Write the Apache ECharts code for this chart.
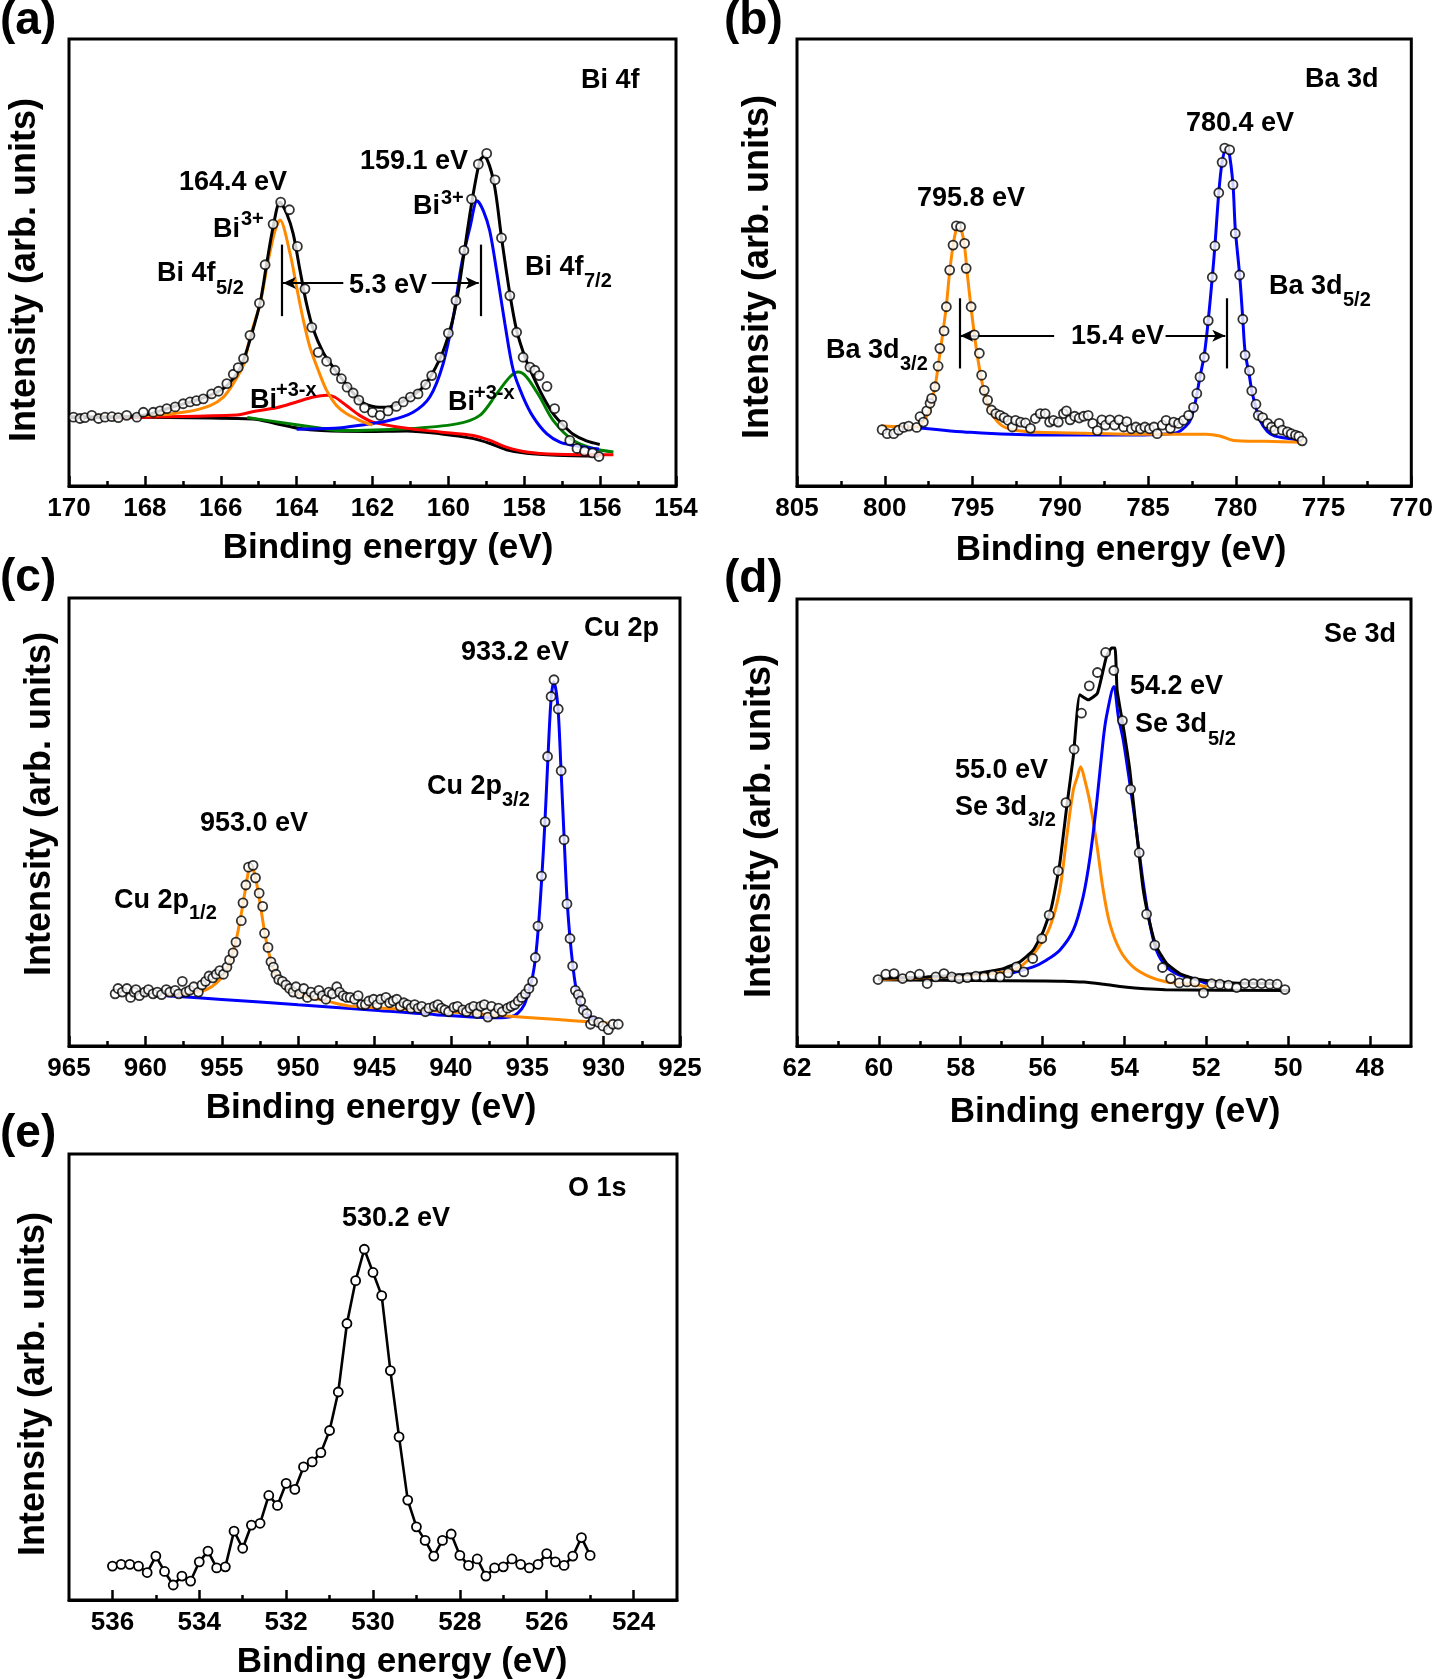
<!DOCTYPE html>
<html><head><meta charset="utf-8">
<script src="https://cdn.jsdelivr.net/npm/echarts@6/dist/echarts.min.js"></script>
<style>html,body{margin:0;padding:0;background:#fff}#c{width:1436px;height:1679px}</style>
</head><body><div id="c"></div><script>
// ---------- tick labels ----------
const aTicks = [154,156,158,160,162,164,166,168,170];
const aMinor = [155,157,159,161,163,165,167,169];
const bTicks = [770,775,780,785,790,795,800,805];
const bMinor = [772.5,777.5,782.5,787.5,792.5,797.5,802.5];
const cTicks = [925,930,935,940,945,950,955,960,965];
const cMinor = [927.5,932.5,937.5,942.5,947.5,952.5,957.5,962.5];
const dTicks = [48,50,52,54,56,58,60,62];
const dMinor = [49,51,53,55,57,59,61];
const eTicks = [524,526,528,530,532,534,536];
const eMinor = [525,527,529,531,533,535];

// ---------- (a) Bi 4f ----------
const aPts = [[169.88,15.4],[169.71,15.1],[169.58,15.3],[169.40,15.8],[169.22,15.1],[169.05,15.4],[168.87,15.5],[168.70,15.3],[168.48,15.8],[168.21,15.4],[168.04,16.5],[167.78,16.5],[167.60,16.8],[167.42,17.3],[167.20,17.7],[166.99,18.4],[166.81,18.8],[166.64,19.1],[166.46,19.5],[166.24,20.6],[166.06,21.2],[165.84,22.9],[165.67,25.0],[165.54,26.5],[165.40,28.5],[165.23,33.7],[164.98,40.9],[164.83,49.5],[164.62,58.6],[164.42,63.5],[164.19,61.8],[163.98,53.6],[163.78,44.1],[163.60,35.5],[163.43,29.9],[163.21,27.9],[162.99,25.9],[162.82,24.0],[162.67,22.1],[162.51,20.8],[162.36,19.2],[162.21,17.5],[162.00,16.5],[161.80,15.8],[161.59,16.8],[161.37,17.8],[161.19,18.8],[161.00,19.9],[160.80,20.6],[160.60,22.7],[160.44,24.7],[160.22,28.8],[160.00,34.2],[159.80,41.5],[159.59,52.7],[159.39,64.2],[159.21,72.0],[158.99,74.4],[158.77,68.5],[158.60,55.5],[158.38,42.6],[158.20,34.4],[158.03,28.8],[157.85,26.6],[157.72,25.9],[157.61,24.7],[157.40,22.3],[157.20,17.3],[156.99,13.6],[156.80,10.2],[156.61,8.4],[156.41,7.8],[156.20,7.4],[156.03,6.6]];
const aEnvelope = [[170,15.3],[169,15.4],[168,15.9],[167.34,17.5],[166.46,19.7],[165.93,21.8],[165.58,25.1],[165.40,28.2],[165.18,34.1],[164.96,41.1],[164.79,49.7],[164.62,57.9],[164.44,63.5],[164.26,60.9],[164.09,56.4],[163.91,48.2],[163.74,40.8],[163.56,35.0],[163.30,29.9],[163.04,26.6],[162.77,23.6],[162.51,20.8],[162.25,18.6],[161.98,17.8],[161.63,17.6],[161.19,19.0],[160.67,22.1],[160.22,28.5],[159.96,34.8],[159.78,41.5],[159.59,51.9],[159.39,63.1],[159.17,72.8],[159.06,73.7],[158.81,68.3],[158.60,55.6],[158.38,43.0],[158.20,34.8],[157.98,28.8],[157.76,24.4],[157.50,19.9],[157.24,16.2],[156.97,13.6],[156.71,11.6],[156.36,10.1],[156.01,9.3]];
const aOrange = [[170,15.3],[167.78,15.8],[166.9,16.6],[166.28,18.0],[165.93,19.9],[165.67,22.9],[165.40,27.1],[165.23,33.3],[164.96,40.9],[164.75,50.4],[164.57,57.1],[164.44,59.5],[164.17,51.9],[164.0,44.5],[163.82,37.0],[163.65,31.1],[163.43,25.9],[163.21,21.4],[162.95,18.0],[162.69,16.2],[162.34,14.7],[162.0,13.6]];
const aRed = [[169.2,15.3],[165.58,15.9],[165.06,16.8],[164.53,17.5],[164.0,18.8],[163.56,19.9],[163.2,20.3],[163.0,19.9],[162.69,18.0],[162.34,15.8],[161.98,14.3],[161.10,12.9],[160.22,12.1],[159.34,11.3],[158.9,10.2],[158.47,8.7],[157.94,7.6],[157.15,7.1],[155.65,7.0]];
const aGreen = [[165.3,15.3],[164.56,14.4],[163.35,12.9],[162.86,12.4],[161.10,12.8],[159.78,13.9],[159.17,15.8],[158.73,20.6],[158.38,24.4],[158.16,25.5],[157.94,24.4],[157.59,19.9],[157.24,14.7],[156.71,10.2],[156.18,8.4],[155.65,7.6]];
const aBlue = [[164.0,12.7],[163.0,12.9],[162.33,13.6],[161.54,14.7],[160.93,16.5],[160.49,19.9],[160.14,27.3],[159.87,37.8],[159.65,49.7],[159.43,57.9],[159.24,63.8],[159.08,61.6],[158.91,57.1],[158.73,48.2],[158.51,36.3],[158.29,25.9],[158.03,19.9],[157.76,15.4],[157.41,11.7],[157.06,9.8],[156.71,9.1],[156.18,8.4],[156.03,8.3]];
const aBackground = [[170,15.5],[165.16,15.0],[164.56,14.0],[163.95,12.9],[163.35,12.4],[162.14,12.2],[161.10,12.3],[160.22,11.7],[159.34,10.6],[158.9,9.5],[158.47,8.1],[157.94,7.3],[157.15,6.9],[156.03,6.7]];
const aSepX = [164.4, 159.15];
const aSepY = [38, 54];
const aArrowY = 45.4;
const aArrows = [[162.77, 164.36], [160.44, 159.2]];

// ---------- (b) Ba 3d ----------
const bPts = [[800.15,12.6],[799.86,11.7],[799.49,11.7],[799.21,12.5],[798.93,13.1],[798.64,13.4],[798.18,13.1],[797.99,15.5],[797.80,14.3],[797.61,16.8],[797.42,18.5],[797.33,19.6],[797.14,22.2],[796.96,26.8],[796.86,30.8],[796.62,34.7],[796.49,40.1],[796.30,48.3],[796.11,53.9],[795.92,58.2],[795.68,58.0],[795.45,54.3],[795.36,48.7],[795.08,40.1],[794.89,33.8],[794.61,29.7],[794.48,24.8],[794.33,21.4],[794.14,19.2],[793.92,17.0],[793.67,16.2],[793.43,15.8],[793.20,15.3],[792.98,14.7],[792.73,13.2],[792.55,14.7],[792.26,14.3],[791.98,14.1],[791.70,12.9],[791.42,15.1],[791.14,16.2],[790.86,16.2],[790.61,14.3],[790.39,14.7],[790.11,14.3],[789.82,16.2],[789.65,16.8],[789.44,14.8],[789.18,15.6],[788.92,15.2],[788.67,15.6],[788.41,15.8],[788.15,14.0],[787.89,12.4],[787.63,14.8],[787.42,13.6],[787.17,14.8],[786.91,13.6],[786.65,14.8],[786.39,13.2],[786.21,14.4],[785.95,12.8],[785.69,13.2],[785.43,12.8],[785.18,13.2],[784.92,12.8],[784.66,13.2],[784.48,11.7],[784.19,13.6],[783.97,14.7],[783.73,12.9],[783.54,14.3],[783.26,14.0],[782.98,14.7],[782.69,15.8],[782.41,17.6],[782.22,20.7],[782.04,24.4],[781.79,28.8],[781.57,37.0],[781.34,46.7],[781.19,53.7],[780.97,65.6],[780.78,72.4],[780.63,75.6],[780.35,75.2],[780.16,67.4],[780.03,56.5],[779.78,47.2],[779.60,37.3],[779.47,29.3],[779.22,25.8],[779.09,21.3],[778.85,18.3],[778.72,15.8],[778.47,15.3],[778.19,14.0],[777.96,13.2],[777.78,12.5],[777.53,14.0],[777.35,12.5],[777.06,12.1],[776.84,11.7],[776.60,11.4],[776.41,11.1],[776.22,10.1]];
const bOrange = [[800.2,13.4],[798.2,13.2],[797.8,14.5],[797.5,16.5],[797.3,19.5],[797.1,23.0],[796.9,28.5],[796.7,34.0],[796.5,40.0],[796.3,48.0],[796.1,54.0],[795.92,57.5],[795.8,58.0],[795.65,57.5],[795.45,53.5],[795.3,47.5],[795.1,40.5],[794.9,34.0],[794.7,28.5],[794.5,24.0],[794.3,20.5],[794.1,18.0],[793.9,16.2],[793.6,14.5],[793.2,13.2],[792.5,12.4],[791.25,12.0],[788.67,11.8],[786.08,11.6],[783.5,11.6],[781.69,11.6],[780.91,11.2],[780.14,10.2],[778.33,10.0],[776.2,9.8]];
const bBlue = [[798.0,13.0],[795.1,12.0],[791.25,11.4],[786.08,11.4],[783.5,11.8],[782.7,14.0],[782.41,17.0],[782.22,20.5],[782.04,24.4],[781.79,29.5],[781.57,37.0],[781.34,46.7],[781.19,53.7],[780.97,65.6],[780.78,72.4],[780.55,75.5],[780.40,75.0],[780.16,67.4],[780.03,57.5],[779.78,47.2],[779.60,37.3],[779.47,30.0],[779.22,24.5],[779.09,21.3],[778.85,17.5],[778.6,14.5],[778.2,12.2],[777.8,11.2],[777.0,10.6],[776.3,10.2]];
const bSepX = [795.75, 780.53];
const bSepY = [26.3, 42];
const bArrowY = 33.6;
const bArrows = [[790.35, 795.7], [784.0, 780.6]];

// ---------- (c) Cu 2p ----------
const cPts = [[961.98,11.64],[961.79,12.83],[961.51,12.03],[961.21,12.83],[960.97,10.84],[960.74,12.03],[960.62,12.59],[960.39,11.24],[960.04,12.03],[959.80,12.59],[959.50,11.64],[959.22,12.03],[958.94,11.48],[958.63,12.59],[958.40,12.03],[958.05,12.43],[957.82,11.64],[957.58,14.43],[957.35,12.03],[957.11,12.43],[956.83,13.23],[956.53,12.03],[956.30,13.63],[956.06,14.43],[955.83,15.62],[955.59,15.22],[955.36,16.02],[955.13,16.82],[954.89,16.02],[954.66,17.61],[954.49,19.21],[954.26,20.8],[954.07,23.19],[953.72,27.97],[953.61,31.95],[953.42,35.94],[953.25,39.92],[952.95,40.32],[952.79,37.53],[952.55,34.11],[952.32,31.16],[952.20,25.18],[951.97,22.0],[951.78,18.8],[951.62,17.61],[951.45,16.02],[951.27,14.82],[951.03,14.43],[950.80,13.63],[950.56,12.83],[950.33,12.03],[950.14,13.23],[949.91,11.64],[949.63,12.83],[949.39,10.84],[949.16,12.03],[948.92,11.24],[948.64,12.43],[948.41,11.24],[948.18,10.44],[947.99,12.03],[947.76,11.64],[947.47,13.23],[947.29,12.03],[947.05,11.24],[946.82,10.84],[946.59,10.84],[946.31,10.44],[946.07,11.24],[945.84,9.25],[945.60,9.25],[945.37,10.04],[945.06,10.44],[944.83,9.25],[944.60,10.44],[944.25,10.84],[944.01,9.65],[943.78,10.04],[943.54,10.44],[943.31,8.85],[943.08,9.65],[942.84,9.25],[942.61,8.45],[942.37,9.25],[942.14,8.45],[941.91,8.85],[941.67,7.65],[941.44,8.45],[941.09,8.85],[940.85,9.25],[940.62,8.45],[940.39,8.05],[940.15,7.65],[939.80,8.61],[939.57,8.85],[939.22,8.05],[938.98,7.65],[938.75,8.45],[938.51,8.85],[938.28,7.25],[938.05,8.85],[937.81,9.25],[937.58,6.46],[937.34,8.85],[937.11,7.25],[936.88,8.45],[936.64,7.65],[936.29,8.45],[936.06,8.85],[935.82,9.25],[935.59,10.04],[935.36,10.84],[935.12,11.64],[934.89,12.83],[934.65,14.43],[934.47,19.76],[934.30,26.77],[934.07,37.93],[933.83,50.04],[933.67,64.62],[933.44,78.01],[933.25,81.75],[932.97,75.22],[932.78,61.44],[932.59,46.06],[932.40,31.71],[932.20,23.99],[932.03,17.85],[931.85,12.43],[931.66,11.48],[931.50,10.04],[931.33,8.05],[931.10,7.25],[930.86,4.86],[930.68,5.66],[930.32,5.26],[930.05,4.47],[929.69,3.67],[929.39,4.86],[929.04,4.86]];
const cOrange = [[958.6,11.3],[957,11.9],[956,12.6],[955.3,14.2],[954.8,16.3],[954.4,19.5],[954.1,23.0],[953.8,28.0],[953.5,34.0],[953.25,39.0],[953.1,40.3],[952.9,39.0],[952.7,36.0],[952.45,31.0],[952.2,25.5],[951.9,20.5],[951.6,17.0],[951.2,14.5],[950.7,12.8],[950,11.6],[949,10.7],[948,9.9],[946.6,8.9],[943,8.2],[940,7.6],[937,6.85],[933,5.9],[931,5.4],[929.6,5.1]];
const cBlue = [[958.63,11.24],[955,10.4],[950,9.2],[945,8.0],[941,7.0],[937,6.3],[936,6.6],[935.6,7.4],[935.2,9.2],[934.9,12.3],[934.65,15.5],[934.45,20.0],[934.25,27.5],[934.05,37.5],[933.85,49.5],[933.65,64.0],[933.45,77.0],[933.27,81.3],[933.1,79.0],[932.95,73.5],[932.8,62.5],[932.6,47.5],[932.4,33.0],[932.2,24.0],[932.0,17.5],[931.8,12.8],[931.5,9.4],[931.2,7.5],[930.8,6.4],[930.5,6.0]];

// ---------- (d) Se 3d ----------
const dPts = [[60.02,14.87],[59.83,16.06],[59.63,16.2],[59.42,15.09],[59.23,15.61],[59.01,16.06],[58.82,13.97],[58.61,15.46],[58.41,16.2],[58.22,15.46],[58.04,15.09],[57.84,15.3],[57.63,15.61],[57.43,15.46],[57.22,15.84],[57.04,15.46],[56.84,16.36],[56.64,17.7],[56.46,16.58],[56.24,19.57],[56.02,24.05],[55.84,29.28],[55.62,39.2],[55.43,54.44],[55.23,66.39],[55.05,74.45],[54.86,80.58],[54.66,83.56],[54.46,88.04],[54.26,84.0],[54.05,72.8],[53.85,57.43],[53.64,43.24],[53.46,29.5],[53.26,22.56],[53.07,17.56],[52.87,15.09],[52.66,14.11],[52.47,14.34],[52.28,14.34],[52.07,11.87],[51.87,13.97],[51.67,13.82],[51.46,13.6],[51.26,13.08],[51.06,13.97],[50.85,13.97],[50.65,13.97],[50.45,13.82],[50.27,13.82],[50.08,12.63]];
const dEnvelope = [[60.02,15.09],[58.84,15.46],[57.61,16.2],[56.96,17.32],[56.56,18.81],[56.23,21.44],[55.99,25.54],[55.78,31.14],[55.58,40.86],[55.41,53.54],[55.25,64.74],[55.09,78.56],[54.88,77.44],[54.66,78.94],[54.44,87.14],[54.31,89.02],[54.23,89.02],[54.18,79.68],[54.03,71.46],[53.87,61.76],[53.71,48.32],[53.54,34.88],[53.38,27.42],[53.22,22.18],[52.97,18.46],[52.65,16.22],[52.32,15.09],[51.91,14.56],[51.34,14.11],[50.28,13.97]];
const dOrange = [[59.98,14.87],[57.21,16.2],[56.56,17.7],[56.15,21.44],[55.82,26.66],[55.58,34.88],[55.41,46.82],[55.25,57.28],[55.15,60.26],[55.07,62.5],[54.97,59.52],[54.84,54.3],[54.68,45.34],[54.52,34.88],[54.36,27.42],[54.11,21.44],[53.79,17.7],[53.38,15.46],[52.97,14.34],[52.32,13.75],[51.99,13.22]];
const dBlue = [[56.80,16.2],[56.23,17.7],[55.91,19.2],[55.58,21.44],[55.25,25.92],[55.01,33.38],[54.84,42.34],[54.68,54.3],[54.52,68.48],[54.44,73.7],[54.26,80.42],[54.15,73.7],[54.03,68.48],[53.87,58.78],[53.71,48.32],[53.54,36.38],[53.38,27.42],[53.22,21.44],[52.97,17.7],[52.65,15.84],[52.32,15.09],[51.99,13.97]];
const dBackground = [[60.01,14.8],[56.03,14.56],[55.5,14.5],[55.0,14.3],[54.5,13.8],[54.0,13.2],[53.5,12.8],[53.0,12.6],[49.97,12.4]];

// ---------- (e) O 1s ----------
const eX = [536.0,535.8,535.6,535.4,535.2,535.0,534.8,534.6,534.4,534.2,534.0,533.8,533.6,533.4,533.2,533.0,532.8,532.6,532.4,532.2,532.0,531.8,531.6,531.4,531.2,531.0,530.8,530.6,530.4,530.2,530.0,529.8,529.6,529.4,529.2,529.0,528.8,528.6,528.4,528.2,528.0,527.8,527.6,527.4,527.2,527.0,526.8,526.6,526.4,526.2,526.0,525.8,525.6,525.4,525.2,525.0];
const eY = [7.6,8.0,8.0,7.6,6.16,9.84,6.4,3.36,5.36,4.24,8.56,10.96,7.2,7.44,15.44,11.6,16.8,17.2,23.44,21.2,26.16,24.8,29.84,30.96,33.04,38.0,46.64,62.0,71.6,78.64,73.44,68.24,51.44,36.56,22.4,16.4,13.36,9.84,13.36,14.8,10.0,7.76,9.2,5.36,7.2,7.44,9.2,8.0,7.2,8.0,10.4,8.56,7.76,9.84,14.0,10.0];

// ---------- layout & style ----------
const FONT = '"Liberation Sans", Arial, Helvetica, sans-serif';
const ORANGE = '#ff8a00', BLUE = '#0000ff', RED = '#ff0000', GREEN = '#008000', BLACK = '#000000';

const panels = [
  {grid:{left:69, top:39, width:607, height:447}, min:154, max:170, ticks:aTicks, minor:aMinor},
  {grid:{left:797, top:39, width:622, height:447}, min:770, max:805, ticks:bTicks, minor:bMinor},
  {grid:{left:69, top:598, width:611, height:448}, min:925, max:965, ticks:cTicks, minor:cMinor},
  {grid:{left:797, top:599, width:614, height:447}, min:47, max:62, ticks:dTicks, minor:dMinor},
  {grid:{left:69, top:1154, width:608, height:446}, min:523, max:537, ticks:eTicks, minor:eMinor}
];

const grid = [], xAxis = [], yAxis = [];
panels.forEach((p, i) => {
  grid.push(Object.assign({show:true, borderColor:BLACK, borderWidth:3, backgroundColor:'transparent', containLabel:false}, p.grid));
  xAxis.push({gridIndex:i, type:'value', min:p.min, max:p.max, inverse:true, position:'bottom',
    axisLine:{show:true, onZero:false, lineStyle:{color:BLACK, width:3}},
    axisTick:{show:true, inside:true, length:10, customValues:p.ticks, lineStyle:{color:BLACK, width:2.5}},
    axisLabel:{show:true, customValues:p.ticks, margin:10, color:BLACK, fontSize:26, fontWeight:'bold', fontFamily:FONT},
    splitLine:{show:false}});
  xAxis.push({gridIndex:i, type:'value', min:p.min, max:p.max, inverse:true, position:'bottom',
    axisLine:{show:false, onZero:false},
    axisTick:{show:true, inside:true, length:5, customValues:p.minor, lineStyle:{color:BLACK, width:2.5}},
    axisLabel:{show:false}, splitLine:{show:false}});
  yAxis.push({gridIndex:i, type:'value', min:0, max:100, axisLine:{show:false}, axisTick:{show:false}, axisLabel:{show:false}, splitLine:{show:false}});
});

function curve(i, data, color, width, smooth) {
  return {type:'line', xAxisIndex:2*i, yAxisIndex:i, data:data, symbol:'none', showSymbol:false,
    smooth: smooth === undefined ? 0.3 : smooth, lineStyle:{color:color, width:width || 3}, z:2, silent:true};
}
function pts(i, data) {
  return {type:'scatter', xAxisIndex:2*i, yAxisIndex:i, data:data, symbol:'circle', symbolSize:9,
    itemStyle:{color:'#ffffff', borderColor:BLACK, borderWidth:1.8}, z:5, silent:true};
}
function marks(i, sepX, sepY, arrowY, arrows) {
  const d = [];
  sepX.forEach(x => d.push([{coord:[x, sepY[0]]}, {coord:[x, sepY[1]]}]));
  arrows.forEach(a => d.push([{coord:[a[0], arrowY], symbol:'none'}, {coord:[a[1], arrowY], symbol:'arrow', symbolSize:[9,13]}]));
  return {type:'line', xAxisIndex:2*i, yAxisIndex:i, data:[], z:6, silent:true,
    markLine:{silent:true, symbol:['none','none'], label:{show:false}, emphasis:{disabled:true},
      lineStyle:{color:BLACK, width:2.2, type:'solid'}, data:d}};
}

const series = [
  curve(0, aBackground, BLACK), curve(0, aGreen, GREEN), curve(0, aRed, RED), curve(0, aBlue, BLUE),
  curve(0, aOrange, ORANGE), curve(0, aEnvelope, BLACK), pts(0, aPts), marks(0, aSepX, aSepY, aArrowY, aArrows),
  curve(1, bBlue, BLUE), curve(1, bOrange, ORANGE), pts(1, bPts), marks(1, bSepX, bSepY, bArrowY, bArrows),
  curve(2, cBlue, BLUE), curve(2, cOrange, ORANGE), pts(2, cPts),
  curve(3, dBackground, BLACK), curve(3, dOrange, ORANGE), curve(3, dBlue, BLUE), curve(3, dEnvelope, BLACK, 3, 0.15), pts(3, dPts),
  {type:'line', xAxisIndex:8, yAxisIndex:4, data:eX.map((x, k) => [x, eY[k]]), symbol:'circle', symbolSize:9, showSymbol:true,
    lineStyle:{color:BLACK, width:2.6}, itemStyle:{color:'#ffffff', borderColor:BLACK, borderWidth:1.8}, z:5, silent:true}
];

// ---------- text ----------
function T(x, y, text, size, align, rot) {
  return {type:'text', x:x, y:y, rotation:rot || 0, silent:true, z:10,
    style:{text:text, fill:BLACK, fontSize:size, fontWeight:'bold', fontFamily:FONT,
      align:align || 'left', verticalAlign:'middle'}};
}
const M = 27, S = 20;
const graphic = [
  T(0, 21, '(a)', 46), T(724, 21, '(b)', 46), T(0, 578, '(c)', 46), T(724, 579, '(d)', 46), T(0, 1134, '(e)', 46),
  // axis titles
  T(388, 548, 'Binding energy (eV)', 35, 'center'), T(1121, 550, 'Binding energy (eV)', 35, 'center'),
  T(371, 1108, 'Binding energy (eV)', 35, 'center'), T(1115, 1112, 'Binding energy (eV)', 35, 'center'),
  T(402, 1662, 'Binding energy (eV)', 35, 'center'),
  T(25, 270, 'Intensity (arb. units)', 36, 'center', Math.PI/2), T(758, 267, 'Intensity (arb. units)', 36, 'center', Math.PI/2),
  T(40, 804, 'Intensity (arb. units)', 36, 'center', Math.PI/2), T(760, 826, 'Intensity (arb. units)', 36, 'center', Math.PI/2),
  T(34, 1384, 'Intensity (arb. units)', 36, 'center', Math.PI/2),
  // (a)
  T(581, 81, 'Bi 4f', M), T(179, 183, '164.4 eV', M),
  T(213, 230, 'Bi', M), T(241, 219, '3+', S),
  T(157, 274, 'Bi 4f', M), T(216, 288, '5/2', S),
  T(349, 286, '5.3 eV', M), T(360, 162, '159.1 eV', M),
  T(413, 207, 'Bi', M), T(441, 198, '3+', S),
  T(525, 268, 'Bi 4f', M), T(584, 281, '7/2', S),
  T(250, 401, 'Bi', M), T(276, 390, '+3-x', S),
  T(448, 403, 'Bi', M), T(474, 393, '+3-x', S),
  // (b)
  T(1305, 80, 'Ba 3d', M), T(1186, 124, '780.4 eV', M), T(917, 199, '795.8 eV', M),
  T(1269, 287, 'Ba 3d', M), T(1343, 300, '5/2', S),
  T(826, 351, 'Ba 3d', M), T(900, 364, '3/2', S),
  T(1071, 337, '15.4 eV', M),
  // (c)
  T(584, 629, 'Cu 2p', M), T(461, 653, '933.2 eV', M),
  T(427, 787, 'Cu 2p', M), T(502, 800, '3/2', S),
  T(200, 824, '953.0 eV', M),
  T(114, 901, 'Cu 2p', M), T(189, 913, '1/2', S),
  // (d)
  T(1324, 635, 'Se 3d', M), T(1130, 687, '54.2 eV', M),
  T(1135, 725, 'Se 3d', M), T(1208, 739, '5/2', S),
  T(955, 771, '55.0 eV', M),
  T(955, 808, 'Se 3d', M), T(1028, 820, '3/2', S),
  // (e)
  T(568, 1189, 'O 1s', M), T(342, 1219, '530.2 eV', M)
];

const chart = echarts.init(document.getElementById('c'), null, {renderer:'canvas', width:1436, height:1679});
chart.setOption({animation:false, backgroundColor:'#ffffff', grid:grid, xAxis:xAxis, yAxis:yAxis, series:series, graphic:graphic});
</script></body></html>
